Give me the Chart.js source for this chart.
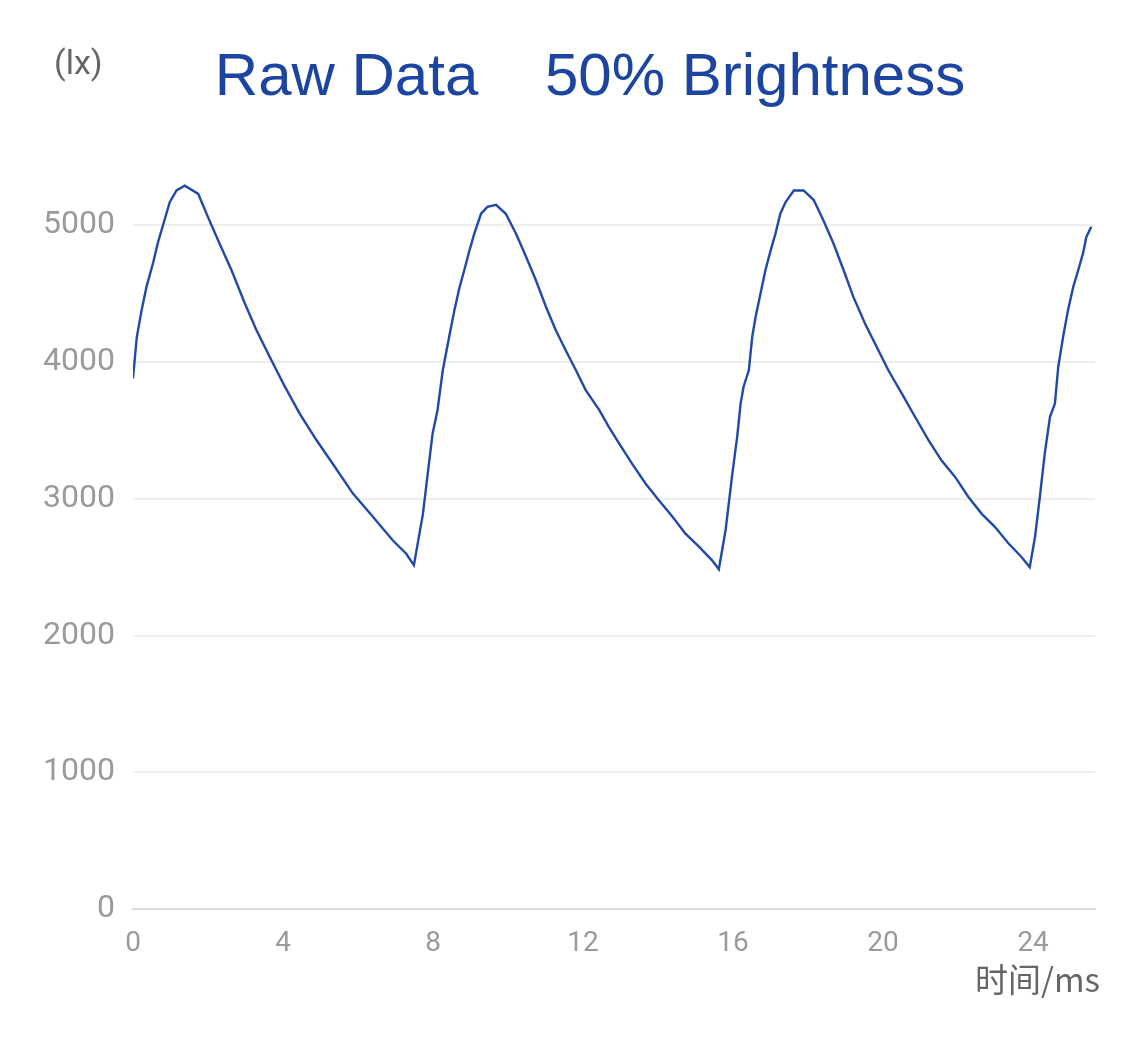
<!DOCTYPE html>
<html>
<head>
<meta charset="utf-8">
<script src="https://cdn.jsdelivr.net/npm/chart.js@4"></script>
<style>
  body { margin: 0; background: #fff; }
  canvas { display: block; }
</style>
</head>
<body>
<canvas id="luxChart" width="1125" height="1040"></canvas>
<script>
// time (ms) and illuminance (lx)
const times = [
  0.00, 0.10, 0.23, 0.36, 0.54, 0.67, 0.81, 0.98, 1.16, 1.38, 1.74, 2.00, 2.31, 2.63, 2.98,
  3.29, 3.65, 4.05, 4.44, 4.89, 5.33, 5.86, 6.39, 6.93, 7.28, 7.49, 7.73, 7.90, 7.99, 8.12,
  8.26, 8.43, 8.57, 8.70, 8.83, 8.97, 9.10, 9.28, 9.45, 9.68, 9.94, 10.21, 10.48, 10.74, 11.01,
  11.27, 11.54, 11.81, 12.07, 12.43, 12.69, 12.96, 13.31, 13.67, 14.02, 14.38, 14.73, 15.09, 15.44, 15.62,
  15.80, 15.97, 16.11, 16.20, 16.28, 16.42, 16.51, 16.60, 16.73, 16.86, 17.00, 17.13, 17.26, 17.40, 17.62,
  17.88, 18.15, 18.41, 18.68, 18.95, 19.21, 19.52, 19.83, 20.14, 20.50, 20.85, 21.21, 21.56, 21.92, 22.27,
  22.63, 22.98, 23.34, 23.69, 23.91, 24.05, 24.18, 24.31, 24.45, 24.58, 24.67, 24.80, 24.93, 25.07, 25.20,
  25.33, 25.42, 25.55
];
const lux = [
  3880, 4180, 4380, 4550, 4730, 4880, 5010, 5170, 5255, 5290, 5230, 5060, 4865, 4670, 4430,
  4235, 4035, 3820, 3625, 3430, 3255, 3040, 2870, 2695, 2600, 2515, 2890, 3280, 3480, 3650,
  3940, 4185, 4380, 4540, 4670, 4815, 4940, 5085, 5135, 5150, 5085, 4940, 4770, 4600, 4405,
  4235, 4085, 3940, 3795, 3650, 3525, 3405, 3255, 3110, 2990, 2870, 2745, 2650, 2550, 2485,
  2770, 3160, 3455, 3695, 3820, 3940, 4185, 4330, 4500, 4670, 4815, 4940, 5085, 5170, 5255,
  5255, 5185, 5035, 4865, 4670, 4475, 4280, 4110, 3940, 3770, 3600, 3430, 3280, 3160, 3015,
  2890, 2795, 2675, 2575, 2500, 2720, 3015, 3330, 3600, 3695, 3965, 4185, 4380, 4550, 4670,
  4795, 4915, 4990
];
const xTicks = [0, 4, 8, 12, 16, 20, 24];
const yTicks = [0, 1000, 2000, 3000, 4000, 5000];

const titleText = 'Raw Data    50% Brightness';
const unitText = '(lx)';
const xAxisText = '时间/ms';

// plain canvas text for the title and the two unit labels
const labelsPlugin = {
  id: 'labels',
  afterDraw(chart) {
    const c = chart.ctx;
    c.save();
    c.textBaseline = 'alphabetic';
    c.fillStyle = '#1c45a2';
    c.font = '60px "Liberation Sans", Arial, sans-serif';
    c.textAlign = 'center';
    c.fillText(titleText, 590, 95);

    c.fillStyle = '#666666';
    c.font = '34px Roboto, sans-serif';
    c.textAlign = 'left';
    c.fillText(unitText, 54, 74);

    c.font = '33px "Noto Sans CJK SC", sans-serif';
    c.textAlign = 'right';
    c.fillText(xAxisText, 1100, 992);
    c.restore();
  }
};

const ctx = document.getElementById('luxChart').getContext('2d');
const luxChart = new Chart(ctx, {
  type: 'line',
  data: {
    datasets: [{
      data: times.map((t, i) => ({ x: t, y: lux[i] })),
      borderColor: '#2149a8',
      borderWidth: 2.4,
      pointRadius: 0,
      tension: 0,
      fill: false
    }]
  },
  options: {
    responsive: false,
    animation: false,
    devicePixelRatio: 1,
    layout: { padding: { left: 0, right: 30, top: 157, bottom: 71 } },
    plugins: {
      legend: { display: false },
      tooltip: { enabled: false }
    },
    scales: {
      x: {
        type: 'linear',
        min: 0,
        max: 25.65,
        afterBuildTicks: s => { s.ticks = xTicks.map(v => ({ value: v })); },
        afterFit: s => { s.height = 60; },
        grid: { display: false },
        border: { display: true, color: '#dcdcdc', width: 2 },
        ticks: {
          color: '#9a9a9a',
          font: { family: 'Roboto', size: 28 },
          padding: 10,
          maxRotation: 0,
          callback: v => String(v)
        }
      },
      y: {
        min: 0,
        max: 5500,
        afterBuildTicks: s => { s.ticks = yTicks.map(v => ({ value: v })); },
        afterFit: s => { s.width = 133; },
        grid: { color: '#eeeeee', lineWidth: 2, drawTicks: false },
        border: { display: false },
        ticks: {
          color: '#9a9a9a',
          font: { family: 'Roboto', size: 32 },
          padding: 18,
          callback: v => String(v)
        }
      }
    }
  },
  plugins: [labelsPlugin]
});
</script>
</body>
</html>
